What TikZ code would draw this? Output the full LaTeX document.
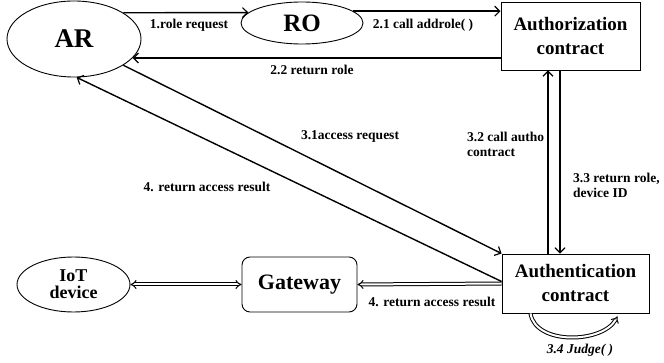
\documentclass[tikz,border=0pt]{standalone}
\usepackage{fontspec}
\setmainfont{Liberation Serif}
\usetikzlibrary{shapes.geometric,arrows.meta}
\tikzset{
  ell/.style={draw,ellipse,line width=0.9pt,inner sep=0pt,font=\bfseries},
  box/.style={draw,rectangle,line width=0.9pt,inner sep=0pt,font=\bfseries,align=center},
  conn/.style={line width=1.4pt,-{Straight Barb[length=5pt,width=10pt,line width=1.2pt]}},
  dconn/.style={double=white,double distance=2pt,line width=1pt},
  lbl/.style={font=\bfseries\fontsize{13.5}{15}\selectfont,inner sep=0pt},
}
\begin{document}
\begin{tikzpicture}[x=1pt,y=-1pt]
\useasboundingbox (0,0) rectangle (664,363);
% nodes
\node[ell,minimum width=134pt,minimum height=76pt,font=\bfseries\fontsize{27}{30}\selectfont] (AR) at (74,39) {AR};
\node[ell,minimum width=122pt,minimum height=42pt,font=\bfseries\fontsize{25}{28}\selectfont] (RO) at (302,23) {RO};
\node[box,minimum width=139pt,minimum height=68pt,font=\bfseries\fontsize{19}{24}\selectfont] (Auth) at (570.5,36) {Authorization\\contract};
\node[box,minimum width=147pt,minimum height=59pt,font=\bfseries\fontsize{19}{24}\selectfont] (Authn) at (575.5,283.5) {Authentication\\contract};
\node[box,rounded corners=8pt,minimum width=115pt,minimum height=55pt,font=\bfseries\fontsize{22}{24}\selectfont] (GW) at (299.5,284.5) {Gateway};
\node[ell,minimum width=113pt,minimum height=55pt,align=center,font=\bfseries\fontsize{18}{17}\selectfont] (IoT) at (73.5,284.5) {IoT\\device};
% connectors
\draw[conn] (AR.28) -- (RO.169.4);
\draw[conn] (RO.13.5) -- (RO.13.5 -| Auth.west);
\draw[conn] (AR.-18.1 -| Auth.west) -- (AR.-18.1);
\draw[conn] (AR.-28) -- (Authn.north west);
\draw[conn] ([yshift=2pt]Authn.west) -- (AR.-86);
\draw[conn] ([xshift=-27.5pt]Authn.north) -- ([xshift=-27.5pt]Authn.north |- Auth.south);
\draw[conn] ([xshift=-15.5pt]Authn.north |- Auth.south) -- ([xshift=-15.5pt]Authn.north);
\draw[dconn,{Implies[]}-{Implies[]}] (IoT.east) -- (GW.west);
\draw[dconn,-{Implies[]}] (Authn.west) -- (GW.east);
\draw[dconn,-{Implies[]}] ([xshift=-45pt]Authn.south) .. controls +(5,32) and +(-15,27) .. ([xshift=42pt,yshift=-3pt]Authn.south);
% labels
\node[lbl] (l1) at (189,25) {1.role request};
\node[lbl] (l21) at (423,25) {2.1 call addrole( )};
\node[lbl] (l22) at (312,70) {2.2 return role};
\node[lbl] (l31) at (350,136) {3.1access request};
\node[lbl,anchor=west,align=left] (l32) at (467,144.5) {3.2 call autho\\contract};
\node[lbl,anchor=west,align=left] (l33) at (573,185.5) {3.3 return role,\\device ID};
\node[lbl] (l4a) at (207,187) {4. return access result};
\node[lbl] (l4b) at (432,302) {4. return access result};
\node[lbl,font=\bfseries\itshape\fontsize{13.5}{15}\selectfont] (l34) at (580,350) {3.4 Judge( )};
\end{tikzpicture}
\end{document}
